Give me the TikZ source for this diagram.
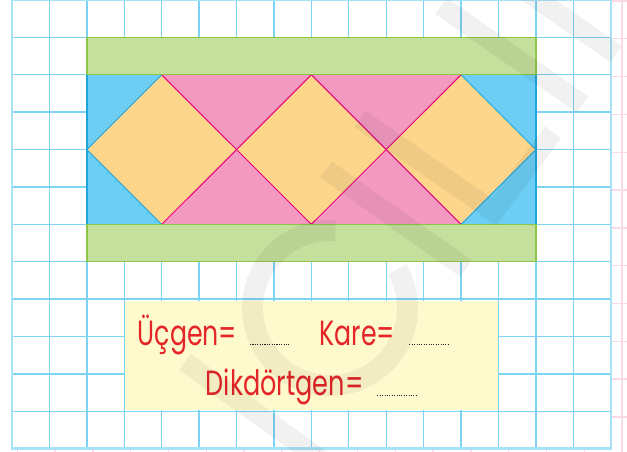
\documentclass[tikz,border=0pt]{standalone}
\usepackage{graphicx}
\usepackage{fontspec}
\newfontfamily\handfont{Poppins}
\definecolor{bluefill}{RGB}{108,206,245}
\definecolor{bluedark}{RGB}{30,165,222}
\definecolor{pinkfill}{RGB}{244,154,193}
\definecolor{orangefill}{RGB}{253,214,140}
\definecolor{greenfill}{RGB}{197,223,157}
\definecolor{greendark}{RGB}{141,198,70}
\definecolor{magline}{RGB}{230,0,126}
\definecolor{yellowbox}{RGB}{255,250,206}
\definecolor{textred}{RGB}{228,38,40}
\definecolor{gridblue}{RGB}{125,211,242}
\definecolor{gridedge}{RGB}{168,226,246}
\definecolor{gridpink}{RGB}{250,218,230}
\tikzset{
  pinkgrid/.style={draw=gridpink, line width=1.4pt},
  bluegrid/.style={draw=gridblue, line width=1.4pt},
  gridborder/.style={draw=gridedge, line width=2.4pt},
  greenbox/.style={fill=greenfill, draw=greendark, line width=1.4pt},
  magedge/.style={draw=magline, line width=1pt},
  blueedge/.style={draw=bluedark, line width=0.9pt},
  txt/.style={anchor=base west, inner sep=0pt, text=textred, font=\handfont\fontsize{35}{35}\selectfont},
  dotline/.style={draw=black!85, line width=0.9pt, dash pattern=on 1.1pt off 1.3pt},
  wm/.style={draw=black, draw opacity=0.055, line cap=butt, line width=20pt}
}
\begin{document}
\begin{tikzpicture}[x=1pt,y=-1pt]
\useasboundingbox (0,0) rectangle (627,452);
% pink background grid
\foreach \i in {0,...,16} \draw[pinkgrid] ({17.3+37.8*\i},0) -- ({17.3+37.8*\i},452);
\foreach \j in {0,...,11} \draw[pinkgrid] (12,{1+37.8*\j}) -- (627,{1+37.8*\j});
\fill[white] (12,0) rectangle (610.7,448.7);
\begin{scope}[shift={(12,0)}, x=37.42pt, y=-37.39pt]
  % blue grid
  \foreach \i in {1,...,15} \draw[bluegrid] (\i,0) -- (\i,12);
  \foreach \j in {1,...,11} \draw[bluegrid] (0,\j) -- (16,\j);
  \draw[gridborder] (0,0) rectangle (16,12);
  % band
  \fill[bluefill] (2,2) rectangle (14,6);
  \fill[pinkfill] (4,2) rectangle (12,6);
  \fill[orangefill] (2,4) -- (4,2) -- (6,4) -- (4,6) -- cycle;
  \fill[orangefill] (6,4) -- (8,2) -- (10,4) -- (8,6) -- cycle;
  \fill[orangefill] (10,4) -- (12,2) -- (14,4) -- (12,6) -- cycle;
  \draw[magedge] (4,2) -- (8,6);
  \draw[magedge] (4,6) -- (8,2);
  \draw[magedge] (8,2) -- (12,6);
  \draw[magedge] (8,6) -- (12,2);
  \draw[blueedge] (4,2) -- (2,4) -- (4,6);
  \draw[blueedge] (12,2) -- (14,4) -- (12,6);
  \draw[draw=bluedark, line width=1.6pt] (2,2) -- (2,6);
  \draw[draw=bluedark, line width=1.6pt] (14,2) -- (14,6);
  \draw[greenbox] (2,1) rectangle (14,2);
  \draw[greenbox] (2,6) rectangle (14,7);
\end{scope}
% answer box
\fill[yellowbox] (124.5,301) rectangle (497.5,410);
\node[txt] (ucgen) at (137.5,345.5) {\scalebox{0.72}[1]{Üçgen=}};
\node[txt] (kare) at (319.5,345.5) {\scalebox{0.72}[1]{Kare=}};
\node[txt] (dik) at (205.5,395.5) {\scalebox{0.73}[1]{Dikdörtgen=}};
\draw[dotline] (250,344.3) -- (289.3,344.3);
\draw[dotline] (409.3,344.3) -- (448.3,344.3);
\draw[dotline] (377.3,395) -- (416,395);
% watermark
\draw[wm] (441,6) -- (582.5,104.5);
\draw[wm] (524,-10) -- (616,54);
\draw[wm, line join=miter] (360,119) -- (494,212) -- (553,132.5);
\draw[wm] (326,169.5) -- (466,268.5);
\draw[wm] (185,362) -- (341,474);
\draw[wm, line width=21pt] (330,308) ++(-86:77.5) arc[start angle=-86, end angle=-390, radius=77.5];
\end{tikzpicture}
\end{document}
